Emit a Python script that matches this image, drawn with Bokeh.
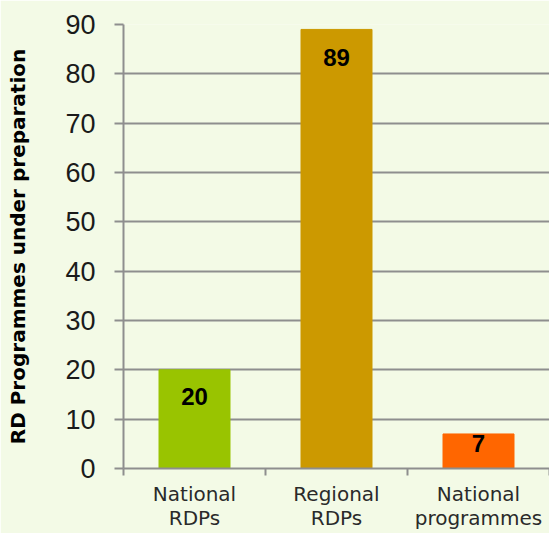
import numpy as np
from bokeh.plotting import figure
from bokeh.models import ColumnDataSource, Range1d, LinearAxis, FixedTicker
from bokeh.embed import file_html
from bokeh.resources import INLINE
from bokeh.core.properties import value

# ---- data ----
categories = ["National\nRDPs", "Regional\nRDPs", "National\nprogrammes"]
counts = [20, 89, 7]
bar_colors = ["#99C400", "#CC9900", "#FF6600"]
y_ticks = [0, 10, 20, 30, 40, 50, 60, 70, 80, 90]
y_label = "RD Programmes under preparation"

BG = "#F3FAE6"
GRID = "#8E8E8E"

n = len(categories)
centers = [i + 0.5 for i in range(n)]
bounds = list(range(n + 1))
vals = np.array(counts, dtype=float)
label_y = np.maximum(vals - 5.7, vals * 0.73)

src = ColumnDataSource(dict(
    x=centers, top=counts, color=bar_colors,
    ly=list(label_y), txt=[str(c) for c in counts],
))

p = figure(width=549, height=533, x_range=Range1d(0, n),
           y_range=Range1d(0, 90), x_axis_location=None,
           output_backend="svg", toolbar_location=None,
           min_border_left=123, min_border_right=0,
           min_border_top=24, min_border_bottom=65)
p.background_fill_color = BG
p.border_fill_color = BG
p.outline_line_color = None

p.xgrid.visible = False
p.ygrid.grid_line_color = GRID
p.ygrid.grid_line_width = 2
p.ygrid.ticker = FixedTicker(ticks=y_ticks)

p.vbar(x="x", top="top", width=0.5, color="color", source=src)
p.text(x="x", y="ly", text="txt", source=src,
       text_font=value("Liberation Sans"), text_font_style="bold",
       text_font_size="24px", text_color="#000000",
       text_align="center", text_baseline="middle")

# y axis
ya = p.yaxis[0]
ya.ticker = FixedTicker(ticks=y_ticks)
ya.axis_line_color = GRID
ya.axis_line_width = 2
ya.major_tick_line_color = GRID
ya.major_tick_line_width = 2
ya.major_tick_out = 9
ya.major_tick_in = 0
ya.minor_tick_line_color = None
ya.major_label_text_font = "Liberation Sans"
ya.major_label_text_font_size = "27px"
ya.major_label_text_color = "#1A1A1A"
ya.major_label_standoff = 19
ya.axis_label = y_label
ya.axis_label_text_font = "DejaVu Sans"
ya.axis_label_text_font_style = "bold"
ya.axis_label_text_font_size = "20px"
ya.axis_label_text_color = "#000000"
ya.axis_label_standoff = 32

# x axis: labels at category centers, separator ticks (minor) at boundaries
xa = LinearAxis(ticker=FixedTicker(ticks=centers, minor_ticks=bounds),
                axis_line_color=GRID, axis_line_width=2,
                major_tick_line_color=None, major_tick_out=0, major_tick_in=0,
                minor_tick_line_color=GRID, minor_tick_line_width=2,
                minor_tick_out=7, minor_tick_in=0,
                major_label_overrides={c: lab for c, lab in zip(centers, categories)},
                major_label_text_font="DejaVu Sans",
                major_label_text_font_size="20px",
                major_label_text_line_height=1.0,
                major_label_text_color="#2A2A2A",
                major_label_standoff=6)
p.add_layout(xa, "below")

open("out.html", "w").write(file_html(p, INLINE))
